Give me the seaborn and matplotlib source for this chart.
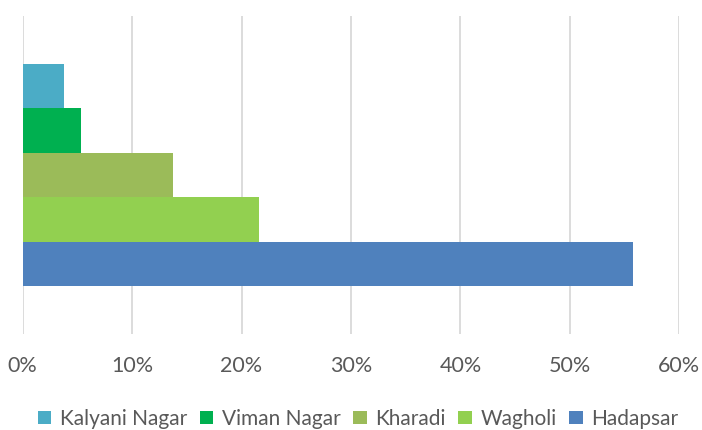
import numpy as np
import pandas as pd
import matplotlib
matplotlib.use("Agg")
import matplotlib.pyplot as plt
import seaborn as sns
from matplotlib.ticker import FuncFormatter

# values (percent of respondents)
areas = ["Kalyani Nagar", "Viman Nagar", "Kharadi", "Wagholi", "Hadapsar"]
shares = [3.8, 5.3, 13.7, 21.6, 55.8]
colours = ["#4BACC6", "#00B050", "#9BBB59", "#92D050", "#4F81BD"]
ticks = [0, 10, 20, 30, 40, 50, 60]

df = pd.DataFrame({"group": ["all"] * len(areas), "area": areas, "share": shares})

sns.set_style("white")
plt.rcParams["font.family"] = ["Lato", "DejaVu Sans"]

fig = plt.figure(figsize=(7.02, 4.30), dpi=100)
ax = fig.add_axes([0.0323, 0.2233, 0.9354, 0.7395])

sns.barplot(data=df, x="share", y="group", hue="area", hue_order=areas,
            palette=colours, orient="h", width=0.7, saturation=1,
            linewidth=0, errorbar=None, legend=True, ax=ax, zorder=3)

ax.set_xlim(0, 60)
ax.set_xticks(ticks)
ax.xaxis.set_major_formatter(FuncFormatter(lambda v, p: f"{v:.0f}%"))
ax.grid(axis="x", color="#D9D9D9", linewidth=1.3, zorder=0)
ax.set_axisbelow(True)
ax.set_yticks([])
ax.set_xlabel("")
ax.set_ylabel("")
for s in ax.spines.values():
    s.set_visible(False)
ax.tick_params(axis="x", length=0, pad=16, labelsize=15.5, labelcolor="#595959")

handles, labels = ax.get_legend_handles_labels()
ax.get_legend().remove()
fig.legend(handles, labels, loc="center", bbox_to_anchor=(0.51, 0.026), ncol=5,
           frameon=False, fontsize=15, labelcolor="#595959",
           handlelength=0.65, handleheight=0.65, handletextpad=0.4,
           columnspacing=0.62, borderpad=0.2)

plt.savefig("out.png", dpi=100)
